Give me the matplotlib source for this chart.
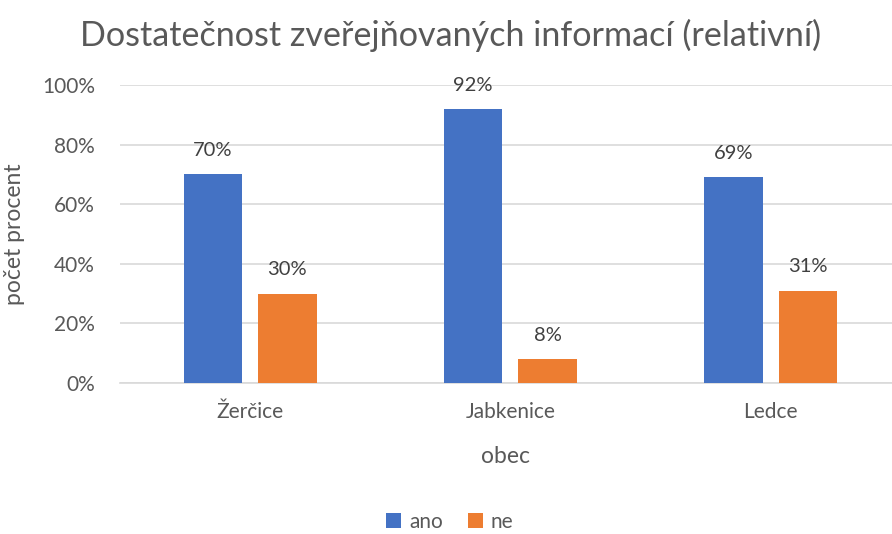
import matplotlib
matplotlib.use('Agg')
import matplotlib.pyplot as plt
import numpy as np

# data
obce = ['Žerčice', 'Jabkenice', 'Ledce']
ano = [70, 92, 69]
ne = [30, 8, 31]
yticks = [0, 20, 40, 60, 80, 100]

plt.rcParams['font.family'] = ['Lato', 'DejaVu Sans']
text_col = '#595959'

fig = plt.figure(figsize=(8.92, 5.34), dpi=100)
ax = fig.add_axes([120 / 892, 1 - 383 / 534, 772 / 892, (383 - 85) / 534])

x = np.arange(len(obce))
w = 0.225
off = 0.143
b1 = ax.bar(x - off, ano, w, color='#4472C4', label='ano', zorder=3)
b2 = ax.bar(x + off, ne, w, color='#ED7D31', label='ne', zorder=3)

for bars, vals in ((b1, ano), (b2, ne)):
    for b, v in zip(bars, vals):
        ax.annotate('%d%%' % v, (b.get_x() + b.get_width() / 2, v),
                    xytext=(0, 11), textcoords='offset points',
                    ha='center', va='bottom', fontsize=14.5, color='#404040')

ax.set_xlim(-0.5, 2.466)
ax.set_ylim(0, 100)
ax.set_yticks(yticks)
ax.set_yticklabels(['%d%%' % t for t in yticks])
ax.set_xticks(x)
ax.set_xticklabels(obce)
ax.tick_params(axis='both', length=0, labelsize=15, colors=text_col)
ax.tick_params(axis='y', pad=18)
ax.tick_params(axis='x', pad=14)
ax.grid(axis='y', color='#D9D9D9', linewidth=1.2, zorder=0)
for s in ['top', 'right', 'left']:
    ax.spines[s].set_visible(False)
ax.spines['bottom'].set_color('#D9D9D9')
ax.spines['bottom'].set_linewidth(1.2)

ax.set_ylabel('počet procent', fontsize=16.5, color=text_col, labelpad=12)
ax.set_xlabel('obec', fontsize=16.5, color=text_col, labelpad=17)

fig.text(451 / 892, 1 - 35 / 534, 'Dostatečnost zveřejňovaných informací (relativní)',
         ha='center', va='center', fontsize=24.6, color=text_col)

fig.legend(handles=[b1, b2], loc='center', bbox_to_anchor=(450 / 892, 1 - 522 / 534),
           ncol=2, frameon=False, fontsize=15, labelcolor=text_col,
           handlelength=0.7, handleheight=0.7, handletextpad=0.4, columnspacing=1.2)

fig.savefig('out.png', dpi=100)
